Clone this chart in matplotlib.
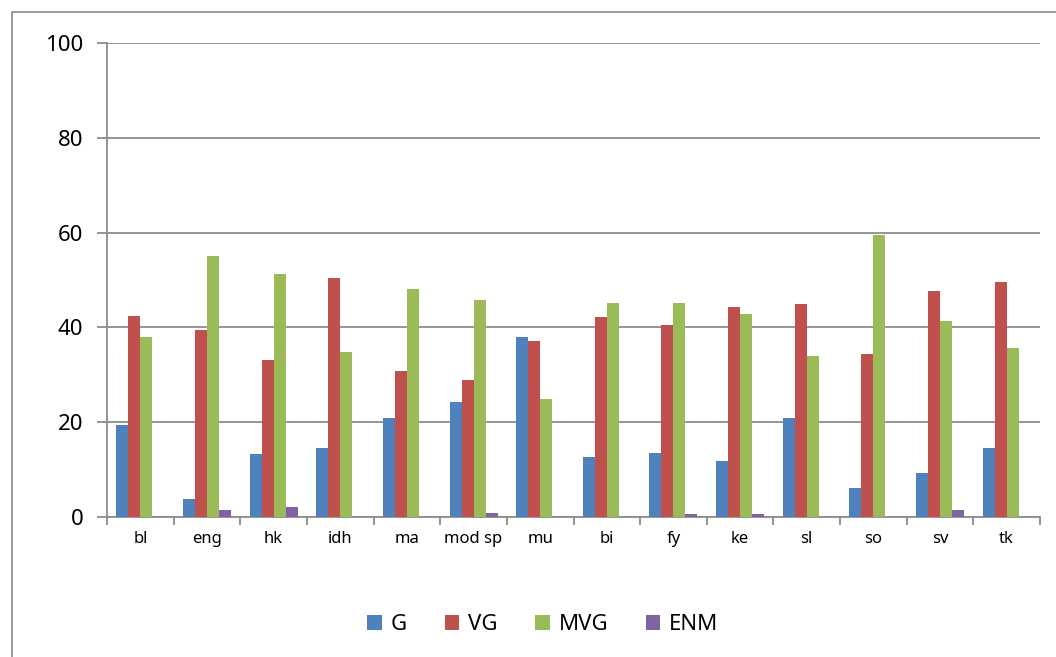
import numpy as np
import matplotlib
matplotlib.use("Agg")
import matplotlib.pyplot as plt
from matplotlib.patches import Rectangle

plt.rcParams['font.family'] = ['Noto Sans', 'DejaVu Sans']

categories = ["bl", "eng", "hk", "idh", "ma", "mod sp", "mu", "bi", "fy", "ke", "sl", "so", "sv", "tk"]
g_vals = [19.4, 3.9, 13.2, 14.6, 20.8, 24.2, 38.0, 12.6, 13.5, 11.8, 20.8, 6.2, 9.3, 14.6]
vg_vals = [42.5, 39.4, 33.2, 50.4, 30.9, 28.8, 37.1, 42.1, 40.5, 44.4, 45.0, 34.4, 47.7, 49.6]
mvg_vals = [38.0, 55.1, 51.2, 34.8, 48.1, 45.8, 24.8, 45.2, 45.2, 42.9, 34.0, 59.4, 41.3, 35.6]
enm_vals = [0, 1.55, 2.2, 0, 0, 0.8, 0, 0, 0.7, 0.7, 0, 0, 1.55, 0]
series_names = ["G", "VG", "MVG", "ENM"]
colors = ["#4F81BD", "#C0504D", "#9BBB59", "#8064A2"]

fig = plt.figure(figsize=(10.56, 6.57), dpi=100)
ax = fig.add_axes([107 / 1056, 1 - 517 / 657, 933 / 1056, 474 / 657])

# outer chart frame (only left/top visible in the image)
fig.patches.append(Rectangle((12 / 1056, -0.5), 1.5, 1.5 - 12 / 657,
                             transform=fig.transFigure, fill=False,
                             edgecolor="#8a8a8a", linewidth=1.2))

x = np.arange(len(categories))
w = 0.18
for i, (vals, name, col) in enumerate(zip([g_vals, vg_vals, mvg_vals, enm_vals], series_names, colors)):
    ax.bar(x + (i - 1.5) * w, vals, width=w, color=col, label=name,
           edgecolor="none", zorder=3)

ax.set_xlim(-0.5, len(categories) - 0.5)
ax.set_ylim(0, 100)
ax.set_yticks(range(0, 101, 20))
ax.yaxis.grid(True, color="#8c8c8c", linewidth=1.3, zorder=0)
ax.set_axisbelow(True)

# category boundary ticks, labels in the middle
ax.set_xticks(np.arange(-0.5, len(categories), 1.0))
ax.set_xticklabels([])
ax.set_xticks(x, minor=True)
ax.set_xticklabels(categories, minor=True, fontsize=12)
ax.tick_params(axis="x", which="major", length=6, color="#8c8c8c", width=1.3, direction="out")
ax.tick_params(axis="x", which="minor", length=0, pad=10)
ax.tick_params(axis="y", length=7, color="#8c8c8c", width=1.3, labelsize=16, pad=10)

for s in ["top", "right"]:
    ax.spines[s].set_visible(False)
for s in ["left", "bottom"]:
    ax.spines[s].set_color("#8c8c8c")
    ax.spines[s].set_linewidth(1.3)

leg = fig.legend(loc="center", bbox_to_anchor=(543 / 1056, 1 - 625 / 657), ncol=4,
                 frameon=False, fontsize=16, handlelength=0.65, handleheight=0.65,
                 handletextpad=0.4, columnspacing=1.7)

fig.savefig("out.png", dpi=100)
